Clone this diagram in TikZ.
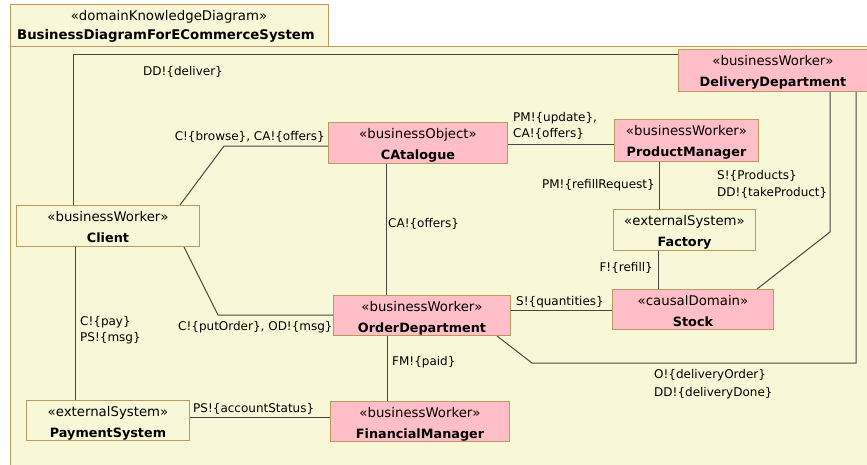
\documentclass[tikz,border=0pt]{standalone}
\usepackage{fontspec}
\setmainfont{DejaVu Sans}
\usetikzlibrary{calc}

\definecolor{paper}{RGB}{248,248,216}
\definecolor{rose}{RGB}{255,190,200}
\definecolor{tanline}{RGB}{186,154,92}
\definecolor{wirecol}{RGB}{70,70,70}

\pgfdeclarelayer{ground}
\pgfdeclarelayer{wires}
\pgfsetlayers{ground,wires,main}

\tikzset{
  framestyle/.style={draw=tanline, fill=paper, line width=1pt},
  umlrect/.style={draw=tanline, line width=1pt, rectangle, inner sep=0pt},
  ybox/.style={fill=paper},
  pbox/.style={fill=rose},
  stereotxt/.style={font=\fontsize{13.3}{16}\selectfont, inner sep=0pt, anchor=base},
  nametxt/.style={font=\fontsize{12.8}{15}\selectfont\bfseries, inner sep=0pt, anchor=base},
  msg/.style={font=\fontsize{12}{15}\selectfont, inner sep=0pt},
  conn/.style={draw=wirecol, line width=1pt}
}

% #1 node name, #2 fill style, #3/#4 top-left corner, #5 width, #6 height,
% #7 stereotype, #8 element name
\newcommand\umlbox[8]{%
  \node[umlrect,#2,minimum width=#5pt,minimum height=#6pt,anchor=north west] (#1) at (#3,#4) {};
  \begin{scope}
    \clip (#1.south west) rectangle (#1.north east);
    \node[stereotxt] (#1-st) at ($(#1.north)+(0,16)$) {«#7»};
    \node[nametxt] (#1-nm) at ($(#1.north)+(0,37.5)$) {#8};
  \end{scope}
}

\begin{document}
\begin{tikzpicture}[x=1pt,y=-1pt]
\useasboundingbox (0,0) rectangle (867,464);

% diagram frame and its heading tab
\begin{pgfonlayer}{ground}
  \fill[white] (0,0) rectangle (867,464);
  \draw[framestyle] (10,46) rectangle (869,466);
  \draw[framestyle] (10,4) rectangle (328,46);
\end{pgfonlayer}
\node[stereotxt] (hdr-st) at (169,20.5) {«domainKnowledgeDiagram»};
\node[nametxt, font=\fontsize{13.3}{16}\selectfont\bfseries] (hdr-nm) at (166,39.5) {BusinessDiagramForECommerceSystem};

% domains
\umlbox{dd}{pbox}{678}{49}{189}{42}{businessWorker}{DeliveryDepartment}
\umlbox{ca}{pbox}{328}{122}{179}{41}{businessObject}{CAtalogue}
\umlbox{pm}{pbox}{614}{119}{144}{42}{businessWorker}{ProductManager}
\umlbox{cl}{ybox}{16}{205}{183}{41}{businessWorker}{Client}
\umlbox{fa}{ybox}{613}{209}{142}{41}{externalSystem}{Factory}
\umlbox{od}{pbox}{333}{295}{177}{40}{businessWorker}{OrderDepartment}
\umlbox{st}{pbox}{612}{289}{161}{40}{causalDomain}{Stock}
\umlbox{ps}{ybox}{26}{400}{163}{40}{externalSystem}{PaymentSystem}
\umlbox{fm}{pbox}{330}{401}{179}{40}{businessWorker}{FinancialManager}

% bend points
\coordinate (b2) at (224,146);
\coordinate (b3) at (218,315);
\coordinate (b12) at (830,232);
\coordinate (b13) at (532,363);

% shared phenomena
\begin{pgfonlayer}{wires}
  \draw[conn] ($(cl.north west)+(57,0)$) |- ($(dd.north west)+(0,5)$);
  \node[msg, anchor=base west] (l1) at (143,75) {DD!\{deliver\}};

  \draw[conn] ($(cl.north west)+(164,0)$) -- (b2) -- (b2 -| ca.west);
  \node[msg, anchor=base east] (l2) at (325,140) {C!\{browse\}, CA!\{offers\}};

  \draw[conn] ($(cl.south west)+(168,0)$) -- (b3) -- (b3 -| od.west);
  \node[msg, anchor=base west] (l3) at (178,330.5) {C!\{putOrder\}, OD!\{msg\}};

  \draw[conn] ($(cl.south west)+(59,0)$) -- ($(ps.north west)+(49,0)$);
  \node[msg, anchor=base west] (l4a) at (80,325) {C!\{pay\}};
  \node[msg, anchor=base west] (l4b) at (80,341.5) {PS!\{msg\}};

  \draw[conn] ($(ps.north east)+(0,17)$) -- ($(fm.north west)+(0,16)$);
  \node[msg, anchor=base west] (l5) at (193,412) {PS!\{accountStatus\}};

  \draw[conn] ($(ca.south west)+(58,0)$) -- ($(od.north west)+(53,0)$);
  \node[msg, anchor=base west] (l6) at (388,227) {CA!\{offers\}};

  \draw[conn] ($(od.south west)+(54,0)$) -- ($(fm.north west)+(57,0)$);
  \node[msg, anchor=base west] (l7) at (392,365) {FM!\{paid\}};

  \draw[conn] ($(ca.north east)+(0,22)$) -- ($(pm.north west)+(0,25)$);
  \node[msg, anchor=base west] (l8a) at (513,121.5) {PM!\{update\},};
  \node[msg, anchor=base west] (l8b) at (513,137.5) {CA!\{offers\}};

  \draw[conn] ($(pm.south west)+(45,0)$) -- ($(fa.north west)+(46,0)$);
  \node[msg, anchor=base east] (l9) at (655,188) {PM!\{refillRequest\}};

  \draw[conn] ($(fa.south west)+(45,0)$) -- ($(st.north west)+(46,0)$);
  \node[msg, anchor=base east] (l10) at (653,271.5) {F!\{refill\}};

  \draw[conn] ($(od.north east)+(0,15)$) -- ($(st.north west)+(0,21)$);
  \node[msg, anchor=base west] (l11) at (516,305.5) {S!\{quantities\}};

  \draw[conn] ($(dd.south west)+(152,0)$) -- (b12) -- ($(st.north west)+(145,0)$);
  \node[msg, anchor=base west] (l12a) at (717,179) {S!\{Products\}};
  \node[msg, anchor=base west] (l12b) at (717,196.5) {DD!\{takeProduct\}};

  \draw[conn] ($(od.south west)+(164,0)$) -- (b13) -| ($(dd.south west)+(178,0)$);
  \node[msg, anchor=base west] (l13a) at (654,378) {O!\{deliveryOrder\}};
  \node[msg, anchor=base west] (l13b) at (654,396) {DD!\{deliveryDone\}};
\end{pgfonlayer}
\end{tikzpicture}
\end{document}
